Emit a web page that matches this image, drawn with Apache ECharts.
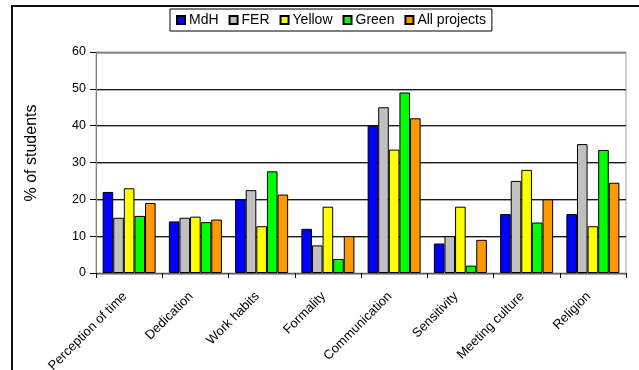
<!DOCTYPE html>
<html>
<head>
<meta charset="utf-8">
<script src="https://cdn.jsdelivr.net/npm/echarts@6/dist/echarts.min.js"></script>
<style>
  html, body { margin: 0; padding: 0; background: #fff; }
  #chart { width: 639px; height: 370px; }
</style>
</head>
<body>
<div id="chart"></div>
<script>
// Survey topics along the x axis
const categories = ['Perception of time', 'Dedication', 'Work habits', 'Formality',
  'Communication', 'Sensitivity', 'Meeting culture', 'Religion'];

// Share of students (%) per group
const mdh = [22, 14, 20, 12, 40, 8, 16, 16];
const fer = [15, 15, 22.5, 7.5, 45, 10, 25, 35];
const yellow = [23, 15.3, 12.7, 18, 33.5, 18, 28, 12.7];
const green = [15.5, 13.8, 27.6, 3.8, 49, 2, 13.7, 33.4];
const allProjects = [19, 14.5, 21.3, 10, 42, 9, 20, 24.5];

const seriesNames = ['MdH', 'FER', 'Yellow', 'Green', 'All projects'];
const seriesData = [mdh, fer, yellow, green, allProjects];
const seriesColors = ['#0000ff', '#c0c0c0', '#ffff00', '#00ff00', '#ff9900'];

const yTicks = { min: 0, max: 60, interval: 10 };
const yTitle = '% of students';

const font = '"Liberation Sans", Arial, sans-serif';

const chart = echarts.init(document.getElementById('chart'), null, { renderer: 'canvas' });

chart.setOption({
  animation: false,
  backgroundColor: '#fff',
  textStyle: { fontFamily: font, color: '#000' },
  legend: {
    left: 170,
    top: 9,
    padding: [4, 6],
    itemWidth: 8,
    itemHeight: 8,
    itemGap: 10,
    icon: 'rect',
    borderColor: '#000',
    borderWidth: 1,
    backgroundColor: '#fff',
    textStyle: { fontFamily: font, fontSize: 14, color: '#000', padding: [0, 0, 0, -1] },
    data: seriesNames
  },
  grid: {
    left: 96,
    right: 13,
    top: 52,
    bottom: 97,
    outerBoundsMode: 'none',
    show: true,
    borderColor: '#a0a0a0',
    borderWidth: 1,
    backgroundColor: '#fff'
  },
  xAxis: {
    type: 'category',
    data: categories,
    axisLine: { lineStyle: { color: '#606060', width: 1 } },
    axisTick: { show: true, length: 5, lineStyle: { color: '#000' } },
    axisLabel: {
      interval: 0,
      rotate: 45,
      fontSize: 13,
      fontFamily: font,
      color: '#000',
      margin: 17,
      padding: [0, 6, 0, 0]
    }
  },
  yAxis: {
    type: 'value',
    min: yTicks.min,
    max: yTicks.max,
    interval: yTicks.interval,
    axisLine: { show: true, lineStyle: { color: '#808080', width: 1 } },
    axisTick: { show: true, length: 6, lineStyle: { color: '#000' } },
    axisLabel: { fontSize: 12.5, fontFamily: font, color: '#000', margin: 10 },
    splitLine: {
      show: true,
      lineStyle: {
        color: ['#1a1a1a', '#1a1a1a', '#1a1a1a', '#1a1a1a', '#1a1a1a', '#1a1a1a', '#808080'],
        width: 1,
        shadowColor: '#a8a8a8',
        shadowOffsetY: 1,
        shadowBlur: 0
      }
    }
  },
  graphic: [
    {
      type: 'rect',
      shape: { x: 12, y: 6, width: 700, height: 500 },
      style: { fill: 'none', stroke: '#111', lineWidth: 2 },
      silent: true,
      z: 100
    },
    {
      type: 'text',
      x: 32,
      y: 153,
      rotation: Math.PI / 2,
      style: {
        text: yTitle,
        fontFamily: font,
        fontSize: 16,
        fill: '#000',
        textAlign: 'center',
        textVerticalAlign: 'middle'
      }
    }
  ],
  series: seriesNames.map((name, i) => ({
    name: name,
    type: 'bar',
    data: seriesData[i],
    barGap: '0%',
    barCategoryGap: '20%',
    itemStyle: {
      color: seriesColors[i],
      borderColor: '#000',
      borderWidth: 1
    }
  }))
});
</script>
</body>
</html>
